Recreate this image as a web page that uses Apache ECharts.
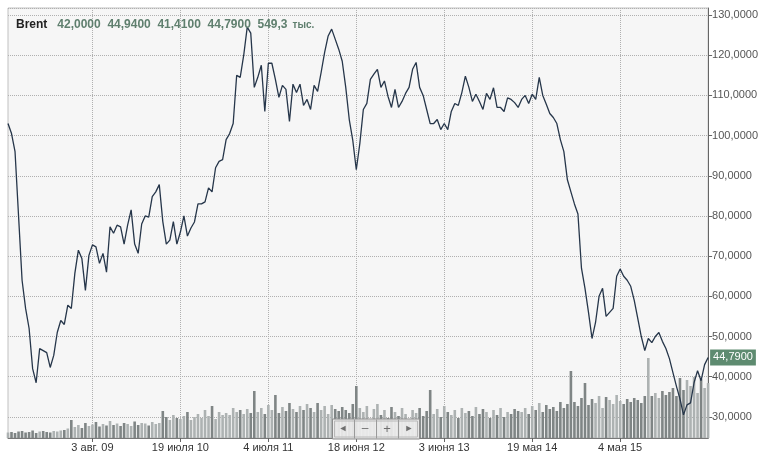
<!DOCTYPE html>
<html><head><meta charset="utf-8">
<script src="https://cdn.jsdelivr.net/npm/echarts@6/dist/echarts.min.js"></script>
<style>html,body{margin:0;padding:0;background:#fff}#c{width:761px;height:454px}</style>
</head><body><div id="c"></div>
<script>
// Brent, bi-weekly closes (Sep 2008 – Apr 2016)
const price = [
 103,100.5,96,80,64,57,52,42,38.5,47,
 46.5,46,42.3,45.3,51,54,53,57.8,57,65.7,
 71.5,69.4,61.5,70.2,72.8,72.3,68.2,70.7,66,77.3,
 75.7,77.7,77.3,73,77.7,81.5,73,70.7,78,80,
 79.7,84.8,86,87.8,78.6,73,74,78.6,73,76,
 80,75,77,78.5,83,83,83.5,87,86,92,
 93.6,94,99,100.5,103,115,114.5,120,127,125.5,
 112,114.5,117.5,106,118,118,114,109.5,112.5,111.5,
 103.5,112.8,110.7,112.8,107.5,109,106.5,112.5,111,115.7,
 120.7,124.8,126.5,124,121.5,118.5,112,104,98.8,91.5,
 98,106.5,108,114,115.3,116.5,112,113.6,109.8,107,
 111.5,107,108.5,110.5,112,116.5,118.2,112,110,106.5,
 103,103,104,101.5,103,101.5,106,108,107.5,110.7,
 114.8,112,108.5,110.3,108.5,106.5,110.5,109,111.9,107,
 107,106,109.4,109,108.2,107,109,110,108,110.3,
 109,114.5,110,107.8,105.5,104.5,103,99,96,89,
 86,83,80.5,67,62,56,49.5,53.5,60,62,
 55,56,57,65,66.8,65,64,62.5,59,54.5,
 50,46.5,49.5,48.5,50,51,48.8,47,44.5,41,
 37.6,34.5,30.5,33,33.5,38.5,41.5,39,43,44.79
];
// volume, thousand contracts
const volume = [
 55,60,50,65,70,55,60,75,50,65,70,60,55,70,65,75,
 80,95,180,
 110,130,100,150,120,135,160,115,140,125,170,130,145,120,150,
 140,120,165,130,150,145,125,160,140,150,
 270,210,180,230,200,190,220,260,180,210,
 240,200,280,220,320,190,260,230,250,
 230,300,260,280,240,290,250,470,
 260,300,240,330,280,430,250,310,270,350,290,260,320,280,340,
 300,260,350,280,320,240,330,290,270,310,280,250,340,520,
 300,260,320,180,290,340,230,280,200,310,260,220,300,240,190,280,
 250,300,220,270,480,240,290,210,320,260,230,280,200,300,250,270,220,310,240,290,260,200,280,230,300,210,260,240,290,270,
 260,300,240,320,280,350,260,330,290,310,270,360,300,340,
 670,
 360,320,400,550,330,390,350,420,300,410,380,340,430,370,
 340,390,360,400,380,350,420,800,
 420,450,400,470,430,460,500,420,600,480,580,520,610,450,590,500,549.3
];
const tickIndex = [24,49,74,99,124,149,174];
const tickLabels = ['3 авг. 09','19 июля 10','4 июля 11','18 июня 12','3 июня 13','19 мая 14','4 мая 15'];
const headerName = 'Brent';
const headerValues = ['42,0000','44,9400','41,4100','44,7900','549,3'];
const headerUnit = 'тыс.';

const categories = price.map((_, i) => String(i));
const isTick = (i) => tickIndex.indexOf(i) >= 0;
const fmt4 = (v) => v.toFixed(4).replace('.', ',');
const last = price[price.length - 1];
const FONT = 'Arial, "Liberation Sans", sans-serif';

const chart = echarts.init(document.getElementById('c'), null, {renderer: 'canvas'});
chart.setOption({
  animation: false,
  backgroundColor: '#ffffff',
  textStyle: {fontFamily: FONT},
  title: {
    left: 11, top: 11,
    text: '{b|' + headerName + '}  {v|' + headerValues.join('  ') + '} {u|' + headerUnit + '}',
    textStyle: {
      rich: {
        b: {fontSize: 12, fontWeight: 'bold', color: '#222', fontFamily: FONT},
        v: {fontSize: 12, color: '#5f7f6e', fontFamily: FONT},
        u: {fontSize: 10, color: '#5f7f6e', fontFamily: FONT}
      }
    }
  },
  grid: {left: 8, right: 48, top: 8, bottom: 16, show: true, backgroundColor: '#f6f6f6', borderColor: '#c0c0c0', borderWidth: 1},
  xAxis: {
    type: 'category', data: categories, boundaryGap: false,
    axisLine: {lineStyle: {color: '#777'}},
    axisTick: {interval: (i) => isTick(i), length: 4, lineStyle: {color: '#666'}},
    axisLabel: {interval: (i) => isTick(i), formatter: (v) => tickLabels[tickIndex.indexOf(Number(v))] || '', color: '#333', fontSize: 11, margin: 4, fontFamily: FONT},
    splitLine: {show: true, interval: (i) => isTick(i), lineStyle: {type: 'dotted', color: '#b0b0b0'}}
  },
  yAxis: [{
    type: 'value', position: 'right', min: 24.75, max: 131.75, splitNumber: 10,
    axisLine: {show: true, lineStyle: {color: '#666'}},
    axisTick: {show: true, length: 4, lineStyle: {color: '#666'}},
    axisLabel: {showMinLabel: false, showMaxLabel: false, formatter: (v) => (Math.abs(v % 10) < 1e-6 ? fmt4(v) : ''), color: '#555', fontSize: 11, margin: 4, fontFamily: FONT},
    splitLine: {lineStyle: {type: 'dotted', color: '#b0b0b0'}}
  }, {
    type: 'value', min: 0, max: 4300, show: false, splitLine: {show: false}
  }],
  series: [{
    type: 'bar', yAxisIndex: 1, barWidth: 2.6, z: 2,
    data: volume.map((v, i) => ({value: v, itemStyle: {color: (i > 0 && price[i] < price[i - 1]) ? '#7f8585' : '#adb2b2'}}))
  }, {
    type: 'line', data: price, showSymbol: false, z: 3,
    lineStyle: {color: '#26364a', width: 1.3},
    markLine: {
      silent: true, symbol: 'none', animation: false,
      data: [{yAxis: last}],
      lineStyle: {color: 'rgba(0,0,0,0)', width: 1, type: 'solid'},
      label: {show: true, position: 'end', distance: 2, formatter: fmt4(last), backgroundColor: '#5e8b70', color: '#fff', padding: [3, 3, 2, 3], fontSize: 11, fontFamily: FONT}
    }
  }],
  graphic: [{
    type: 'group', left: 332, top: 417, z: 100,
    children: [
      {type: 'rect', z: 100, shape: {x: 0.5, y: 0.5, width: 87, height: 20}, style: {fill: 'rgba(236,236,236,0.92)', stroke: '#8c8c8c', lineWidth: 1}},
      {type: 'rect', z: 101, shape: {x: 2.5, y: 2.5, width: 83, height: 16}, style: {fill: 'none', stroke: '#b8b8b8', lineWidth: 1}},
      {type: 'line', z: 101, shape: {x1: 22.5, y1: 1, x2: 22.5, y2: 20}, style: {stroke: '#9a9a9a'}},
      {type: 'line', z: 101, shape: {x1: 44.5, y1: 1, x2: 44.5, y2: 20}, style: {stroke: '#9a9a9a'}},
      {type: 'line', z: 101, shape: {x1: 66.5, y1: 1, x2: 66.5, y2: 20}, style: {stroke: '#9a9a9a'}},
      {type: 'text', z: 102, x: 11, y: 10.5, style: {text: '◄', fill: '#6e6e6e', fontSize: 9, align: 'center', verticalAlign: 'middle', fontFamily: FONT}},
      {type: 'text', z: 102, x: 33, y: 10.5, style: {text: '–', fill: '#6e6e6e', fontSize: 12, align: 'center', verticalAlign: 'middle', fontFamily: FONT}},
      {type: 'text', z: 102, x: 55, y: 10.5, style: {text: '+', fill: '#6e6e6e', fontSize: 13, align: 'center', verticalAlign: 'middle', fontFamily: FONT}},
      {type: 'text', z: 102, x: 77, y: 10.5, style: {text: '►', fill: '#6e6e6e', fontSize: 9, align: 'center', verticalAlign: 'middle', fontFamily: FONT}}
    ]
  }]
});
</script>
</body></html>
